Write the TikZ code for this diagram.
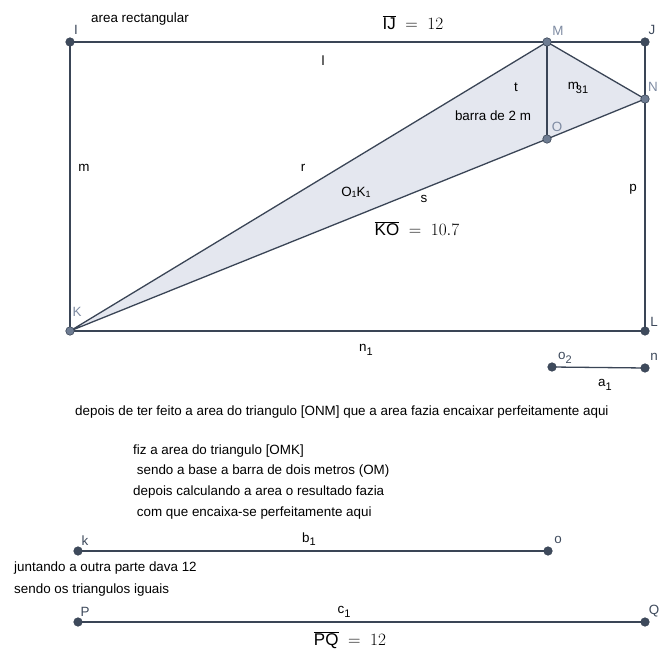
\documentclass[tikz,border=0pt]{standalone}
\usepackage{fontspec}
\setmainfont{Liberation Sans}
\newcommand{\mysub}[1]{\raisebox{-3.5pt}{\fontsize{11}{11}\selectfont #1}}
\begin{document}
\begin{tikzpicture}[x=1pt,y=-1pt,
  seg/.style={draw=segc,line width=1.3pt},
  dpt/.style={circle,fill=ptdark,draw=segc,line width=0.6pt,inner sep=0pt,minimum size=8.5pt},
  lpt/.style={circle,fill=ptlight,draw=segc,line width=0.6pt,inner sep=0pt,minimum size=8.5pt},
  lbl/.style={font=\fontsize{13.4}{15}\selectfont,text=black,inner sep=1pt},
  dlab/.style={font=\fontsize{13.4}{15}\selectfont,text=labdark,inner sep=1pt},
  llab/.style={font=\fontsize{13.4}{15}\selectfont,text=lablight,inner sep=1pt},
  val/.style={font=\fontsize{17}{19}\selectfont,text=black,inner sep=0pt},
  txt/.style={font=\fontsize{13.4}{15}\selectfont,text=black,inner sep=0pt,anchor=west}]
\definecolor{segc}{HTML}{3A4556}
\definecolor{ptdark}{HTML}{3E4A5C}
\definecolor{ptlight}{HTML}{6E7C92}
\definecolor{labdark}{HTML}{3E4A5C}
\definecolor{lablight}{HTML}{7E8BA2}
\definecolor{fillc}{HTML}{E4E7EF}
\useasboundingbox (0,0) rectangle (659,652);
% points
\coordinate (I) at (70,42);
\coordinate (M) at (547,42);
\coordinate (J) at (645,42);
\coordinate (N) at (645,99);
\coordinate (O) at (547,139);
\coordinate (K) at (70,331);
\coordinate (L) at (645,331);
\coordinate (o2) at (552,367);
\coordinate (n) at (645,368);
\coordinate (k) at (78,551);
\coordinate (o) at (548,551);
\coordinate (P) at (78,622);
\coordinate (Q) at (645,622);
% fill
\fill[fillc] (K) -- (M) -- (N) -- (O) -- cycle;
% segments
\draw[seg] (I) -- (M) -- (J) -- (N) -- (L) -- (K) -- (I);
\draw[seg] (K) -- (M) -- (N) -- (O) -- (K);
\draw[seg] (M) -- (O);
\draw[seg] (o2) -- (n);
\draw[seg] (k) -- (o);
\draw[seg] (P) -- (Q);
% point markers
\foreach \p in {I,J,L,k,o,P,Q,o2,n} \node[dpt] at (\p) {};
\foreach \p in {M,N,O,K} \node[lpt] at (\p) {};
% point labels
\node[dlab] (lI) at (76,30) {I};
\node[llab] (lM) at (558,31) {M};
\node[dlab] (lJ) at (652,30) {J};
\node[llab] (lN) at (653,87) {N};
\node[llab] (lO) at (557,127) {O};
\node[llab] (lK) at (77,312) {K};
\node[dlab] (lL) at (654,322) {L};
\node[dlab] (lo2) at (565,358) {o\mysub{2}};
\node[dlab] (ln) at (654,357) {n};
\node[dlab] (lk) at (85,541) {k};
\node[dlab] (lo) at (558,540) {o};
\node[dlab] (lP) at (85,612) {P};
\node[dlab] (lQ) at (654,611) {Q};
% segment labels
\node[lbl] (ll) at (323,61) {l};
\node[lbl] (lt) at (516,87) {t};
\node[lbl] (lm31) at (578,88) {m\kern-3pt\mysub{31}};
\node[lbl] (lbarra) at (493,116) {barra de 2 m};
\node[lbl] (lr) at (303,168) {r};
\node[lbl] (lm) at (84,168) {m};
\node[lbl] (lp) at (633,189) {p};
\node[lbl] (lOK) at (356,192) {O\raisebox{-1pt}{\fontsize{9}{9}\selectfont 1}K\raisebox{-1pt}{\fontsize{9}{9}\selectfont 1}};
\node[lbl] (ls) at (424,199) {s};
\node[lbl] (ln1) at (366,350) {n\mysub{1}};
\node[lbl] (la1) at (605,385) {a\mysub{1}};
\node[lbl] (lb1) at (309,539) {b\mysub{1}};
\node[lbl] (lc1) at (344,612) {c\mysub{1}};
% values
\node[val] (vIJ) at (413,23) {$\overline{\hbox{IJ}}\;=\;12$};
\node[val] (vKO) at (417,229) {$\overline{\hbox{KO}}\;=\;10.7$};
\node[val] (vPQ) at (350,640) {$\overline{\hbox{PQ}}\;=\;12$};
% texts
\node[txt] (t0) at (91,19) {area rectangular};
\node[txt] (t1) at (75,412) {depois de ter feito a area do triangulo [ONM] que a area fazia encaixar perfeitamente aqui};
\node[txt] (t2) at (133,451) {fiz a area do triangulo [OMK]};
\node[txt] (t3) at (133,471) {\ sendo a base a barra de dois metros (OM)};
\node[txt] (t4) at (133,492) {depois calculando a area o resultado fazia};
\node[txt] (t5) at (133,513) {\ com que encaixa-se perfeitamente aqui};
\node[txt] (t6) at (14,568) {juntando a outra parte dava 12};
\node[txt] (t7) at (14,590) {sendo os triangulos iguais};
\end{tikzpicture}
\end{document}
